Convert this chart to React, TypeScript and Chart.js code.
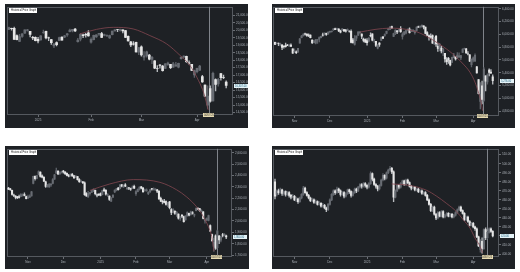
import React, { useEffect, useRef } from "react";
import { Chart, registerables } from "chart.js";

Chart.register(...registerables);

type OHLC = [number, number, number, number]; // open, high, low, close

// ---------- Panel 1 (Dec 16 – Apr 16) ----------
const p1Candles: OHLC[] = [
  [20050,20205,20035,20173],[20130,20150,20010,20109],[20120,20215,19380,19393],[19640,19700,19360,19372],[19250,19730,19230,19573],[19590,19770,19520,19765],[19800,20031,19790,20031],[19980,20060,19930,20020],[19920,19930,19560,19722],[19520,19600,19370,19487],[19530,19560,19290,19311],
  [19400,19520,19150,19280],[19350,19640,19330,19622],[19850,20010,19780,19865],[19930,19950,19420,19490],[19500,19550,19310,19479],[19380,19400,19060,19162],[18950,19100,18830,19088],[19180,19230,18950,19044],[19320,19550,19300,19511],[19540,19560,19330,19339],[19530,19660,19500,19630],[19690,19790,19590,19757],[19900,20070,19890,20009],[19950,20060,19880,20054],[20070,20120,19910,19954],[19240,19460,19200,19341],[19400,19770,19290,19734],[19700,19740,19510,19632],[19720,19800,19530,19681],[19830,19970,19600,19627],
  [19200,19500,19140,19392],[19370,19680,19360,19654],[19560,19700,19520,19692],[19740,19800,19660,19791],[19780,19860,19500,19523],[19650,19740,19620,19714],[19620,19700,19590,19643],[19480,19680,19460,19649],[19700,19950,19680,19946],[19950,20050,19940,20027],[20050,20060,19900,20041],[19990,20080,19940,20056],[20020,20030,19820,19962],[19980,20000,19500,19524],[19600,19620,19270,19286],[19230,19260,18900,19026],[19100,19250,19000,19075],[19200,19210,18530,18544],[18530,18860,18370,18847],
  [18890,18950,18260,18350],[18200,18580,18000,18285],[18290,18600,18200,18553],[18340,18390,18020,18070],[18050,18250,17770,18196],[17950,17980,17430,17468],[17440,17640,17240,17436],[17670,17720,17470,17648],[17600,17650,17260,17303],[17450,17780,17430,17754],[17700,17870,17650,17808],[17720,17730,17440,17504],[17530,17860,17510,17751],[17600,17850,17600,17692],[17540,17800,17480,17784],[18100,18220,18070,18189],[18200,18290,18180,18272],[18260,18280,17850,17900],[17830,17960,17730,17804],[17730,17730,17300,17323],[17010,17330,16850,17299],
  [17230,17470,17150,17450],[17340,17660,17300,17601],[16900,16990,16520,16551],[16330,16350,15580,15588],[15000,16290,14784,15603],[16100,16292,15200,15268],[15275,17200,15260,17125],[16710,16750,15950,16387],[16420,16780,16270,16724],[17100,17120,16660,16832],[16840,17000,16770,16824],[16540,16620,16140,16307],
];
const p1YTicks = [14500,15000,15500,16000,16500,17000,17500,18000,18500,19000,19500,20000,20500,21000];
const p1XTickIndex = [11, 31, 50, 71];
const p1XTickText = ["2025", "Feb", "Mar", "Apr"];
const p1ArcX = [26.8, 33.1, 39.4, 46.9, 53.2, 59.5, 64.6, 68.3, 71.5, 73.6, 75.2];
const p1ArcY = [19755, 20060, 20193, 20087, 19643, 19092, 18316, 17653, 16658, 15776, 14669];

// ---------- Panel 2 (Oct 17 – Apr 16) ----------
const p2Candles: OHLC[] = [
  [5875,5878,5840,5841],[5859,5872,5846,5865],[5857,5866,5824,5853],[5833,5863,5821,5851],[5835,5835,5762,5797],[5817,5822,5784,5809],[5826,5862,5799,5808],[5833,5843,5822,5823],[5819,5847,5806,5833],[5833,5850,5810,5813],[5775,5775,5703,5705],
  [5723,5772,5723,5729],[5725,5741,5696,5712],[5722,5783,5722,5782],[5864,5936,5864,5929],[5947,5983,5946,5973],[5976,6012,5976,5996],[6008,6018,5986,6001],[6003,6010,5966,5984],[5989,6008,5965,5985],[5989,5993,5944,5949],[5912,5916,5853,5871],[5870,5908,5866,5894],[5862,5920,5851,5917],[5914,5920,5860,5917],[5926,5963,5883,5949],[5950,5973,5945,5970],[5993,6021,5970,5987],[5992,6025,5992,6021],[6015,6020,5984,5999],[6003,6044,6003,6032],
  [6040,6053,6021,6047],[6042,6052,6033,6050],[6069,6089,6061,6086],[6089,6099,6072,6075],[6081,6099,6079,6090],[6083,6089,6042,6053],[6057,6065,6024,6034],[6060,6092,6057,6085],[6074,6079,6051,6051.5],[6068,6078,6035,6051],[6063,6085,6059,6074],[6052,6057,6035,6051],[6047,6071,5867,5872],[5913,5936,5866,5867],[5842,5982,5832,5931],[5941,5978,5903,5974],[5984,6041,5983,6040],[6025,6049,6007,6037],[6006,6007,5932,5971],[5921,5941,5880,5907],[5920,5929,5869,5882],
  [5904,5935,5829,5869],[5892,5950,5880,5942],[5983,6022,5960,5975],[6007,6008,5896,5909],[5910,5928,5874,5918],[5890,5890,5809,5827],[5782,5839,5773,5837],[5863,5871,5811,5843],[5905,5960,5905,5950],[5963,5965,5937,5937.5],[5983,6010,5969,5997],[6015,6051,6006,6049],[6069,6100,6069,6086],[6076,6119,6075,6119],[6121,6128,6088,6101],[5969,6018,5962,6012],[6026,6069,5994,6067],[6057,6063,6012,6039],[6050,6087,6036,6071],[6096,6120,6031,6041],
  [5969,6022,5923,5995],[5998,6042,5990,6038],[6020,6062,6007,6061],[6072,6084,6054,6084],[6083,6101,6020,6026],[6047,6073,6045,6066],[6050,6076,6043,6068],[6026,6064,6003,6051],[6060,6116,6051,6115],[6116,6128,6108,6114],[6121,6130,6100,6129],[6118,6147,6111,6144],[6134,6134,6085,6117],[6114,6114,6008,6013],[6026,6044,5982,5983],[5982,5992,5908,5955],[5971,6010,5933,5956],[5981,5994,5858,5861],[5856,5959,5837,5955],
  [5968,5986,5810,5850],[5811,5865,5732,5779],[5782,5860,5742,5843],[5787,5812,5711,5739],[5726,5783,5667,5770],[5705,5705,5565,5615],[5603,5636,5529,5572],[5624,5642,5546,5599],[5594,5598,5505,5522],[5563,5645,5563,5639],[5635,5703,5631,5675],[5654,5654,5597,5615],[5632,5715,5622,5675],[5646,5711,5641,5663],[5630,5670,5603,5668],[5718,5775,5718,5768],[5775,5787,5765,5777],[5772,5783,5699,5712],[5696,5732,5678,5693],[5679,5685,5572,5581],[5527,5613,5489,5612],
  [5598,5650,5567,5633],[5581,5696,5578,5671],[5492,5500,5391,5397],[5292,5292,5070,5074],[4953,5247,4835,5062],[5194,5268,4910,4982],[4966,5482,4950,5457],[5353,5353,5115,5268],[5255,5381,5220,5363],[5441,5460,5348,5406],[5411,5450,5386,5397],[5335,5367,5220,5276],
];
const p2YTicks = [4800,5000,5200,5400,5600,5800,6000,6200,6400];
const p2XTickIndex = [11, 31, 52, 72, 91, 112];
const p2XTickText = ["Nov", "Dec", "2025", "Feb", "Mar", "Apr"];
const p2ArcX = [48.0, 56.5, 65.0, 74.4, 81.9, 93.2, 100.7, 106.4, 110.2, 113.0, 114.9, 116.2, 117.3];
const p2ArcY = [6035, 6077, 6097, 6077, 6020, 5841, 5687, 5534, 5405, 5251, 5097, 4969, 4805];

// ---------- Panel 3 (Oct 17 – Apr 16) ----------
const p3Candles: OHLC[] = [
  [2290,2295,2275,2280],[2282,2288,2268,2276],[2270,2272,2228,2234],[2228,2236,2214,2224],[2220,2224,2195,2208],[2212,2216,2196,2205],[2215,2228,2200,2208],[2215,2240,2214,2232],[2228,2238,2218,2231],[2232,2248,2220,2224],[2215,2218,2195,2197],
  [2200,2228,2198,2210],[2210,2230,2205,2217],[2220,2260,2218,2257],[2330,2395,2325,2392],[2392,2398,2360,2372],[2375,2402,2370,2399],[2410,2442,2405,2434],[2430,2432,2385,2391],[2398,2405,2378,2385],[2385,2390,2345,2350],[2345,2350,2295,2303],[2305,2322,2298,2315],[2300,2328,2295,2325],[2318,2330,2305,2325],[2330,2372,2325,2364],[2368,2410,2365,2406],[2420,2466,2418,2442],[2440,2442,2408,2415],[2415,2432,2410,2426],[2428,2440,2420,2434],
  [2438,2446,2420,2432],[2430,2434,2408,2416],[2420,2424,2396,2400],[2402,2410,2388,2394],[2398,2414,2392,2409],[2410,2420,2392,2397],[2398,2402,2372,2380],[2385,2400,2380,2394],[2390,2392,2360,2363],[2365,2372,2340,2346],[2348,2360,2340,2352],[2345,2348,2328,2336],[2335,2345,2225,2231],[2240,2250,2215,2221],[2212,2260,2208,2242],[2240,2252,2228,2249],[2252,2268,2248,2267],[2262,2282,2258,2278],[2270,2272,2230,2240],[2230,2238,2212,2228],[2235,2240,2222,2230],
  [2240,2248,2220,2228],[2232,2272,2230,2268],[2275,2290,2260,2265],[2270,2276,2228,2236],[2232,2240,2215,2233],[2220,2222,2180,2189],[2175,2205,2170,2203],[2210,2230,2205,2227],[2255,2275,2250,2271],[2272,2288,2265,2283],[2290,2295,2270,2275],[2285,2320,2282,2317],[2318,2322,2300,2307],[2300,2318,2295,2315],[2318,2330,2302,2307],[2285,2300,2275,2289],[2292,2296,2275,2288],[2286,2290,2268,2280],[2290,2310,2285,2299],[2305,2315,2284,2288],
  [2240,2268,2225,2259],[2258,2282,2255,2278],[2280,2300,2272,2298],[2300,2304,2282,2289],[2290,2296,2252,2258],[2268,2280,2262,2275],[2265,2282,2262,2274],[2240,2258,2232,2253],[2258,2278,2250,2275],[2284,2288,2272,2280],[2276,2292,2272,2282],[2272,2286,2268,2280],[2275,2278,2250,2262],[2262,2265,2190,2195],[2200,2210,2170,2175],[2175,2185,2150,2167],[2172,2190,2158,2163],[2170,2178,2140,2145],[2140,2165,2125,2163],
  [2168,2172,2105,2116],[2100,2110,2055,2076],[2078,2108,2070,2101],[2085,2092,2058,2067],[2065,2085,2040,2077],[2060,2062,2015,2025],[2020,2040,2005,2025],[2050,2058,2030,2043],[2038,2042,1990,1993],[2010,2048,2008,2044],[2045,2080,2042,2073],[2068,2070,2045,2052],[2055,2088,2050,2080],[2072,2082,2060,2068],[2050,2060,2035,2056],[2090,2115,2088,2110],[2112,2118,2100,2107],[2110,2112,2085,2091],[2085,2100,2080,2091],[2080,2082,2018,2023],[2000,2018,1980,2011],
  [2010,2028,2002,2022],[2005,2052,2000,2048],[1960,1965,1905,1911],[1880,1885,1820,1827],[1775,1850,1732,1811],[1870,1878,1750,1761],[1765,1920,1760,1913],[1870,1872,1800,1834],[1832,1865,1815,1860],[1880,1892,1860,1873],[1872,1890,1866,1883],[1870,1875,1845,1860],
];
const p3YTicks = [1700,1800,1900,2000,2100,2200,2300,2400,2500,2600];
const p3XTickIndex = [11, 31, 52, 72, 91, 112];
const p3XTickText = ["Nov", "Dec", "2025", "Feb", "Mar", "Apr"];
const p3ArcX = [46.0, 57.3, 70.5, 85.6, 95.0, 100.7, 106.3, 110.1, 112.9, 114.8, 116.1];
const p3ArcY = [2269, 2326, 2364, 2340, 2274, 2211, 2124, 2038, 1951, 1865, 1735];

// ---------- Panel 4 (Oct 17 – Apr 16) ----------
const p4Candles: OHLC[] = [
  [480,483,461,464],[466,471,464,470],[470,472,466,468],[468,473,467,471],[471,472,465,467],[467,470,465,469],[469,470,464,466],[466,469,465,468],[468,469,463,465],[465,466,461,463],[463,466,462,464],
  [464,465,459,460],[460,463,458,461],[461,462,456,458],[458,463,457,462],[462,467,461,466],[466,475,465,473],[473,474,467,468],[468,469,464,465],[465,466,461,462],[462,463,458,459],[459,462,458,460],[460,461,456,457],[457,460,456,458],[458,459,454,455],[455,458,454,456],[456,457,452,453],[453,456,452,454],[454,455,450,451],[451,452,447,449],
  [449,456,448,455],[455,461,454,460],[460,467,459,466],[466,471,465,470],[470,471,466,468],[468,474,467,472],[472,473,468,470],[470,471,464,466],[466,469,465,468],[468,469,462,464],[464,468,463,467],[467,472,466,471],[471,472,467,469],[469,470,463,465],[465,469,464,468],[468,473,467,472],[472,473,468,470],[470,475,469,474],[474,478,473,477],[477,478,473,475],[475,479,474,478],[478,479,474,476],
  [476,477,472,474],[474,479,473,478],[478,491,477,489],[489,490,481,483],[483,484,476,477],[477,478,473,475],[475,476,470,472],[472,477,471,476],[476,483,475,482],[482,489,481,487],[487,488,482,484],[484,491,483,490],[490,494,489,493],[493,497,492,495],[495,496,489,491],[491,492,458,463],[463,471,462,470],[470,477,469,476],[476,477,472,474],[474,479,473,478],
  [478,482,477,481],[481,482,476,477],[477,483,476,482],[482,483,478,479],[479,480,474,475],[475,476,471,473],[473,475,472,474],[474,475,470,471],[471,473,470,472],[472,473,468,469],[469,471,468,470],[470,471,466,467],[467,469,466,468],[468,469,464,465],[465,466,459,460],[460,461,454,455],[455,456,447,448],[448,453,447,452],[452,453,443,444],
  [444,445,438,440],[440,447,439,446],[446,447,441,442],[442,448,441,447],[447,448,440,441],[441,444,440,443],[443,446,442,445],[445,446,441,442],[442,445,441,444],[444,445,440,441],[441,444,440,443],[443,447,442,446],[446,450,445,449],[449,453,448,452],[452,453,447,448],[448,449,444,445],[445,446,437,438],[438,442,437,441],[441,442,435,436],[436,437,431,432],[432,435,431,434],
  [434,435,429,430],[430,431,426,428],[428,429,418,419],[419,420,408,409],[405,416,402,412],[414,418,401,406],[406,428,405,427],[427,429,416,418],[418,425,417,424],[424,429,423,428],[428,429,424,425],[425,426,419,420],
];
const p4YTicks = [400,410,420,430,440,450,460,470,480,490,500,510];
const p4XTickIndex = [11, 31, 52, 72, 91, 112];
const p4XTickText = ["Nov", "Dec", "2025", "Feb", "Mar", "Apr"];
const p4ArcX = [65.9, 76.3, 85.7, 91.4, 97.0, 102.6, 106.4, 110.2, 113.0, 115.8, 117.3];
const p4ArcY = [477.6, 475.9, 470.5, 463.9, 455.9, 446.8, 437.8, 428.6, 417.7, 408.7, 401.4];

const legendText = "Historical Price Graph";
const markerDateText = "04/07/25";

// ---------- Styling ----------
const BG = "#1e2125";
const BORDER = "#55595f";
const TEXT = "#aab0b7";
const FONT = "Liberation Sans";

interface PanelSpec {
  candles: OHLC[];
  yTicks: number[];
  yMin: number;
  yMax: number;
  xMin: number;
  xMax: number;
  xTickIndex: number[];
  xTickText: string[];
  arcX: number[];
  arcY: number[];
  marker: number;
  left: number;
  top: number;
  width: number;
  height: number;
  padLeft: number;
  padTop: number;
  axisW: number;
  axisH: number;
  bodyW: number;
}

const fmt = (v: number) =>
  Number(v).toLocaleString("en-US", { minimumFractionDigits: 2, maximumFractionDigits: 2 });

const decorPlugin = {
  id: "decor",
  beforeDatasetsDraw(chart: any, _args: any, opts: any) {
    const { ctx, chartArea: a } = chart;
    ctx.save();
    ctx.strokeStyle = BORDER;
    ctx.lineWidth = 1;
    ctx.strokeRect(
      Math.round(a.left) + 0.5,
      Math.round(a.top) + 0.5,
      Math.round(a.right - a.left) - 1,
      Math.round(a.bottom - a.top) - 1
    );
    const mx = Math.round(chart.scales.x.getPixelForValue(opts.marker)) + 0.5;
    ctx.strokeStyle = "#7f838a";
    ctx.beginPath();
    ctx.moveTo(mx, a.top);
    ctx.lineTo(mx, a.bottom);
    ctx.stroke();
    ctx.restore();
  },
  afterDraw(chart: any, _args: any, opts: any) {
    const { ctx, chartArea: a } = chart;
    ctx.save();
    // legend box
    const lx = Math.round(a.left) + 2;
    const ly = Math.round(a.top) + 1;
    ctx.fillStyle = "#ffffff";
    ctx.fillRect(lx, ly, 28, 5);
    ctx.fillStyle = "#222222";
    ctx.font = `2.6px ${FONT}`;
    ctx.textBaseline = "middle";
    ctx.textAlign = "left";
    ctx.fillText(opts.legend, lx + 2, ly + 2.6);
    // date box at marker
    const mx = chart.scales.x.getPixelForValue(opts.marker);
    ctx.fillStyle = "#e7dbb1";
    ctx.fillRect(Math.round(mx - 5.5), Math.round(a.bottom) - 2, 11, 4);
    ctx.fillStyle = "#333333";
    ctx.textAlign = "center";
    ctx.fillText(opts.dateText, mx, Math.round(a.bottom));
    // price tag
    const py = chart.scales.y.getPixelForValue(opts.last);
    ctx.fillStyle = "#e4f3f7";
    ctx.fillRect(Math.round(a.right) + 1, Math.round(py - 2), 14, 4);
    ctx.fillStyle = "#1c5f7c";
    ctx.textAlign = "left";
    ctx.fillText(fmt(opts.last), Math.round(a.right) + 2, Math.round(py));
    ctx.restore();
  },
};

function Panel({ spec }: { spec: PanelSpec }) {
  const ref = useRef<HTMLCanvasElement>(null);
  useEffect(() => {
    const c = spec.candles;
    const up = c.map((k) => k[3] >= k[0]);
    const bodyColors = up.map((u) => (u ? "#686c73" : "#e6e6e6"));
    const wickColors = up.map((u) => (u ? "#5c6067" : "#b9bcc0"));
    const chart = new Chart(ref.current as HTMLCanvasElement, {
      type: "bar",
      data: {
        datasets: [
          {
            type: "line",
            data: spec.arcX.map((x, i) => ({ x, y: spec.arcY[i] })),
            borderColor: "#844850",
            borderWidth: 0.8,
            pointRadius: 0,
            tension: 0.4,
            cubicInterpolationMode: "monotone",
            order: 0,
          } as any,
          {
            type: "bar",
            data: c.map((k, i) => ({ x: i, y: [k[0], k[3]] })),
            backgroundColor: bodyColors,
            barThickness: spec.bodyW,
            grouped: false,
            order: 1,
          } as any,
          {
            type: "bar",
            data: c.map((k, i) => ({ x: i, y: [k[2], k[1]] })),
            backgroundColor: wickColors,
            barThickness: 0.7,
            grouped: false,
            order: 2,
          } as any,
        ],
      },
      options: {
        responsive: false,
        animation: false,
        devicePixelRatio: 1,
        layout: { padding: { left: spec.padLeft, top: spec.padTop, right: 0, bottom: 0 } },
        plugins: {
          legend: { display: false },
          tooltip: { enabled: false },
          decor: {
            marker: spec.marker,
            legend: legendText,
            dateText: markerDateText,
            last: c[c.length - 1][3],
          },
        } as any,
        scales: {
          x: {
            type: "linear",
            min: spec.xMin,
            max: spec.xMax,
            offset: false,
            afterBuildTicks: (s: any) => {
              s.ticks = spec.xTickIndex.map((v) => ({ value: v }));
            },
            afterFit: (s: any) => {
              s.height = spec.axisH;
            },
            ticks: {
              color: TEXT,
              font: { size: 3, family: FONT },
              padding: 1,
              maxRotation: 0,
              autoSkip: false,
              callback: (_v: any, i: number) => spec.xTickText[i],
            },
            grid: { drawOnChartArea: false, drawTicks: true, tickLength: 2, color: "#6a6e74", offset: false },
            border: { display: false },
          },
          y: {
            type: "linear",
            position: "right",
            min: spec.yMin,
            max: spec.yMax,
            afterBuildTicks: (s: any) => {
              s.ticks = spec.yTicks.map((v) => ({ value: v }));
            },
            afterFit: (s: any) => {
              s.width = spec.axisW;
            },
            ticks: {
              color: TEXT,
              font: { size: 3, family: FONT },
              padding: 1,
              callback: (v: any) => fmt(v),
            },
            grid: { drawOnChartArea: false, drawTicks: true, tickLength: 2, color: "#6a6e74" },
            border: { display: false },
          },
        },
      } as any,
      plugins: [decorPlugin as any],
    });
    return () => chart.destroy();
  }, [spec]);
  return (
    <div
      style={{
        position: "absolute",
        left: spec.left,
        top: spec.top,
        width: spec.width,
        height: spec.height,
        background: BG,
      }}
    >
      <canvas
        ref={ref}
        width={spec.width}
        height={spec.height}
        style={{ display: "block", width: spec.width, height: spec.height }}
      />
    </div>
  );
}

const panels: PanelSpec[] = [
  {
    candles: p1Candles, yTicks: p1YTicks, yMin: 14337, yMax: 21566, xMin: -0.72, xMax: 84.57,
    xTickIndex: p1XTickIndex, xTickText: p1XTickText, arcX: p1ArcX, arcY: p1ArcY, marker: 75.5,
    left: 5, top: 4, width: 243, height: 124, padLeft: 2, padTop: 2, axisW: 15, axisH: 13, bodyW: 2,
  },
  {
    candles: p2Candles, yTicks: p2YTicks, yMin: 4723, yMax: 6431, xMin: -1.13, xMax: 126.55,
    xTickIndex: p2XTickIndex, xTickText: p2XTickText, arcX: p2ArcX, arcY: p2ArcY, marker: 117.3,
    left: 272, top: 4, width: 243, height: 124, padLeft: 1, padTop: 1, axisW: 16, axisH: 12, bodyW: 1.4,
  },
  {
    candles: p3Candles, yTicks: p3YTicks, yMin: 1683, yMax: 2635, xMin: -0.85, xMax: 126.27,
    xTickIndex: p3XTickIndex, xTickText: p3XTickText, arcX: p3ArcX, arcY: p3ArcY, marker: 117.6,
    left: 5, top: 146, width: 244, height: 123, padLeft: 2, padTop: 1, axisW: 17, axisH: 12, bodyW: 1.4,
  },
  {
    candles: p4Candles, yTicks: p4YTicks, yMin: 396.7, yMax: 516.5, xMin: -1.13, xMax: 126.55,
    xTickIndex: p4XTickIndex, xTickText: p4XTickText, arcX: p4ArcX, arcY: p4ArcY, marker: 119.8,
    left: 272, top: 146, width: 243, height: 123, padLeft: 1, padTop: 1, axisW: 16, axisH: 12, bodyW: 1.4,
  },
];

export default function App() {
  return (
    <div style={{ position: "fixed", left: 0, top: 0, width: 520, height: 272, background: "#ffffff", overflow: "hidden" }}>
      {panels.map((p, i) => (
        <Panel key={i} spec={p} />
      ))}
    </div>
  );
}
